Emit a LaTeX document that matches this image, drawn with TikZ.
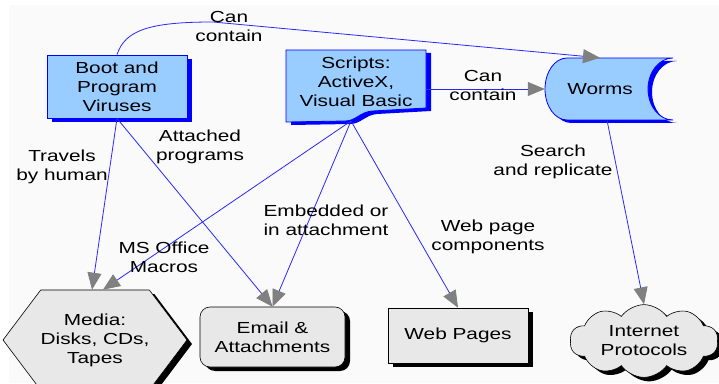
\documentclass[tikz,border=0pt]{standalone}
\usepackage{fontspec}
\setmainfont[FakeStretch = 1.3]{Liberation Sans}
\usetikzlibrary{arrows.meta, shapes.symbols, shadows}

\definecolor{virusblue}{RGB}{153, 204, 255}
\definecolor{mediagray}{RGB}{232, 232, 232}
\definecolor{linkblue}{RGB}{40, 40, 255}
\definecolor{tipgray}{RGB}{128, 128, 128}
\definecolor{paper}{RGB}{250, 250, 250}

\tikzset{
	source/.style = {draw = blue, fill = virusblue, align = center, line width = 0.8pt, inner sep = 2pt},
	target/.style = {draw = black, fill = mediagray, align = center, line width = 0.6pt, inner sep = 2pt,
		drop shadow = {shadow xshift = 5pt, shadow yshift = -4pt, fill = black, opacity = 1}},
	link/.style = {draw = linkblue, line width = 0.8pt, -{Triangle[length = 17pt, width = 14pt, color = tipgray]}},
	tag/.style = {align = center}
}

\begin{document}
\begin{tikzpicture}[x = 1pt, y = 1pt, font = \fontsize{16}{19}\selectfont]

	% Canvas
	
	\fill [white] (0, 0) rectangle (719, 383);
	\fill [paper] (9, 0) rectangle (719, 378);
	\useasboundingbox (0, 0) rectangle (719, 383);
	
	% Boot and program viruses
	
	\node [source, minimum width = 140pt, minimum height = 63pt,
		drop shadow = {shadow xshift = 5pt, shadow yshift = -4pt, fill = blue, opacity = 1}]
		(boot) at (117, 296.5) {Boot and\\Program\\Viruses};
	
	% Scripts (document shape with wavy foot)
	
	\fill [blue, xshift = 5pt, yshift = -3pt] (286, 333) -- (426, 333) -- (426, 275) -- (372, 272)
		.. controls (360, 271) and (356, 262) .. (345, 262) -- (286, 261) -- cycle;
	\filldraw [draw = blue, fill = virusblue, line width = 0.8pt] (286, 333) -- (426, 333) -- (426, 275) -- (372, 272)
		.. controls (360, 271) and (356, 262) .. (345, 262) -- (286, 261) -- cycle;
	\node [align = center, minimum width = 140pt, minimum height = 60pt] (scripts) at (356, 301) {Scripts:\\ActiveX,\\Visual Basic};
	\coordinate (scriptsfoot) at (351, 262);
	
	% Worms (stored data shape)
	
	\fill [blue, xshift = 4pt, yshift = -3pt] (673, 325) -- (567, 325) arc [start angle = 90, end angle = 270, x radius = 22, y radius = 31]
		-- (673, 263) arc [start angle = 270, end angle = 90, x radius = 25, y radius = 31] -- cycle;
	\filldraw [draw = blue, fill = virusblue, line width = 0.8pt] (673, 325) -- (567, 325) arc [start angle = 90, end angle = 270, x radius = 22, y radius = 31]
		-- (673, 263) arc [start angle = 270, end angle = 90, x radius = 25, y radius = 31] -- cycle;
	\node [minimum width = 110pt, minimum height = 62pt] (worms) at (600, 294) {Worms};
	
	% Targets
	
	\node [target, signal, signal to = east and west, signal pointer angle = 106,
		minimum width = 155pt, minimum height = 100pt, inner sep = 0pt] (media) at (95, 43) {Media:\\Disks, CDs,\\Tapes};
	\node [target, rounded corners = 10pt, minimum width = 145pt, minimum height = 60pt] (email) at (272.5, 46) {Email \&\\Attachments};
	\node [target, minimum width = 140pt, minimum height = 55pt] (web) at (458, 47.5) {Web Pages};
	\node [target, cloud, cloud puffs = 10, cloud puff arc = 110, aspect = 2.2,
		minimum width = 148pt, minimum height = 68pt, inner sep = 0pt] (net) at (644, 42) {Internet\\Protocols};
	
	% Connectors
	
	\draw [link] (boot.north) .. controls (125, 353) and (150, 361) .. (213, 361) -- (worms.north);
	\draw [link] (scripts.east |- worms.west) -- (worms.west);
	\draw [link] (boot.south) -- ([xshift = -3pt]media.north);
	\draw [link] (boot.south) -- (email.north);
	\draw [link] (scriptsfoot) -- ([xshift = 8pt]media.north);
	\draw [link] (scriptsfoot) -- (email.north);
	\draw [link] (scriptsfoot) -- (web.north);
	\draw [link] ([xshift = 7pt]worms.south) -- (net.north);
	
	% Connector labels
	
	\node [tag] (canlong) at (229, 356.5) {Can\\contain};
	\node [tag] (canshort) at (483, 297.5) {Can\\contain};
	\node [tag] (travels) at (62, 216) {Travels\\by human};
	\node [tag] (attached) at (200, 236) {Attached\\programs};
	\node [tag] (macros) at (164, 126) {MS Office\\Macros};
	\node [tag] (embedded) at (326, 163) {Embedded or\\in attachment};
	\node [tag] (webparts) at (488, 146) {Web page\\components};
	\node [tag] (replicate) at (553, 221) {Search\\and replicate};

\end{tikzpicture}
\end{document}
